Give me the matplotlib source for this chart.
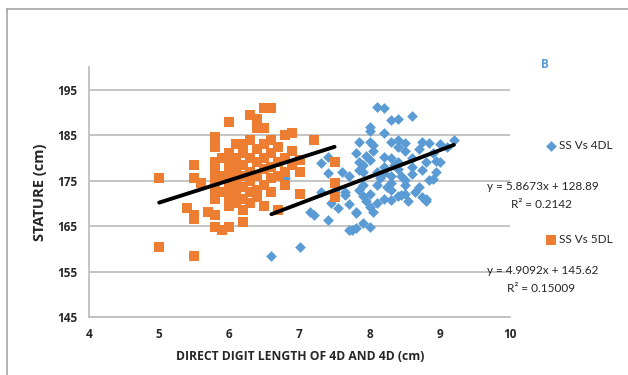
import matplotlib.pyplot as plt
from matplotlib.lines import Line2D

# SS Vs 5DL (orange squares)
x_5dl = [5.0, 5.0, 5.5, 5.4, 5.5, 5.5, 5.5, 5.5, 5.6, 5.7, 5.8, 5.8, 5.9, 6.0, 6.2, 6.0,
         5.8, 5.8, 5.8, 5.8, 5.8, 5.8, 5.8, 5.9, 5.9, 5.9, 6.0, 6.0, 6.0, 6.0, 6.0, 6.0,
         6.0, 6.1, 6.1, 6.1, 6.1, 6.1, 6.1, 6.1, 6.2, 6.2, 6.2, 6.2, 6.2, 6.2, 6.2, 6.3,
         6.3, 6.3, 6.3, 6.3, 6.3, 6.3, 6.4, 6.4, 6.4, 6.4, 6.4, 6.4, 6.4, 6.5, 6.5, 6.5,
         6.5, 6.5, 6.5, 6.5, 6.6, 6.6, 6.6, 6.6, 6.6, 6.6, 6.7, 6.7, 6.7, 6.7, 6.8, 6.8,
         6.8, 6.8, 6.9, 6.9, 6.9, 7.0, 7.0, 7.0, 7.2, 7.5, 7.5, 7.5]
y_5dl = [175.5, 160.5, 158.5, 169.0, 167.5, 166.5, 178.5, 175.5, 174.5, 168.0, 167.5, 164.8,
         164.2, 164.8, 166.0, 169.5, 184.5, 182.5, 179.0, 177.0, 175.0, 173.0, 171.0, 180.0,
         176.0, 172.5, 188.0, 181.0, 179.0, 177.0, 175.0, 173.0, 171.0, 183.0, 180.0, 178.0,
         176.0, 174.0, 172.0, 170.0, 183.0, 181.0, 178.5, 176.0, 173.5, 171.0, 168.5, 189.5,
         184.0, 180.0, 177.0, 175.0, 172.5, 170.0, 188.5, 186.5, 182.0, 179.0, 176.0, 173.0,
         171.5, 191.0, 186.5, 183.0, 180.0, 177.5, 174.0, 169.5, 191.0, 184.0, 181.0, 178.0,
         175.5, 172.5, 182.5, 179.0, 176.0, 168.5, 185.0, 180.0, 177.0, 174.0, 185.5, 181.5,
         178.5, 177.0, 172.0, 179.5, 184.0, 179.0, 174.5, 171.5]

# SS Vs 4DL (blue diamonds)
x_4dl = [6.6, 7.0, 6.8, 7.15, 7.2, 7.4, 7.3, 7.4, 7.4, 7.3, 7.5, 7.65, 7.65, 7.7, 7.8, 7.9,
         8.0, 7.8, 7.75, 8.1, 8.2, 8.3, 8.4, 8.6, 8.0, 8.0, 8.2, 8.4, 8.3, 8.0, 8.05, 7.8,
         7.85, 7.85, 7.9, 8.0, 8.05, 8.2, 8.3, 8.4, 8.75, 8.85, 9.0, 9.2, 8.9, 8.95, 8.75,
         8.85, 8.9, 8.75, 8.5, 8.5, 8.3, 8.4, 8.5, 8.2, 7.85, 7.9, 8.0, 8.1, 7.8, 8.0, 8.1,
         8.6, 8.6, 8.6, 8.7, 8.1, 8.2, 8.3, 8.4, 8.5, 8.4, 8.5, 8.65, 8.7, 8.8, 8.8, 8.3,
         7.9, 7.7, 7.6, 7.9, 7.95, 8.15, 8.25, 8.35, 8.45, 8.55, 7.95, 8.05, 8.2, 8.3, 8.45,
         8.8, 9.0, 9.1, 8.95, 7.55, 7.45, 7.7, 7.85]
y_4dl = [158.5, 160.5, 175.5, 168.0, 167.5, 166.3, 178.8, 176.6, 180.2, 172.6, 172.9, 172.6,
         171.8, 164.1, 164.5, 165.6, 164.8, 167.8, 164.2, 191.2, 191.0, 188.3, 188.5, 189.2,
         186.8, 186.0, 185.4, 184.0, 183.5, 183.6, 182.8, 181.0, 179.0, 177.4, 176.8, 179.5,
         181.5, 180.2, 180.0, 179.0, 183.6, 183.3, 183.1, 183.9, 181.0, 179.3, 177.3, 175.1,
         175.3, 171.4, 175.1, 174.0, 172.9, 171.7, 172.0, 176.6, 172.9, 171.6, 169.3, 170.0,
         168.2, 172.0, 174.0, 176.5, 180.0, 178.0, 182.0, 177.0, 178.0, 176.0, 177.5, 181.5,
         182.5, 183.2, 172.5, 173.5, 179.0, 170.5, 174.5, 174.0, 176.0, 177.0, 178.5, 180.5,
         175.5, 173.5, 178.5, 176.0, 170.5, 170.5, 168.0, 171.0, 170.7, 171.8, 171.0, 179.0,
         182.5, 177.0, 169.0, 170.0, 169.8, 183.5]

# trendline coefficients (as shown on the chart)
fit_4dl = (5.8673, 128.89, 0.2142)
fit_5dl = (4.9092, 145.62, 0.15009)

x_ticks = [4, 5, 6, 7, 8, 9, 10]
y_ticks = [145, 155, 165, 175, 185, 195]

blue = '#5B9BD5'
orange = '#ED7D31'
grid_c = '#BFBFBF'
text_c = '#262626'
bold_font = ['Open Sans', 'DejaVu Sans']

plt.rcParams['font.family'] = ['Lato', 'DejaVu Sans']

W, H = 628, 375
fig = plt.figure(figsize=(W / 100, H / 100), dpi=100)
ax = fig.add_axes([89 / W, 1 - 317 / H, (510 - 89) / W, (317 - 67) / H])

ax.scatter(x_4dl, y_4dl, marker='D', s=30, color=blue, linewidths=0, zorder=3,
           label='SS Vs 4DL')
ax.scatter(x_5dl, y_5dl, marker='s', s=42, color=orange, linewidths=0, zorder=3,
           label='SS Vs 5DL')

# linear trendlines over each series' x range
for xs, (m, b, _) in ((x_4dl, fit_4dl), (x_5dl, fit_5dl)):
    x0, x1 = min(xs), max(xs)
    ax.plot([x0, x1], [m * x0 + b, m * x1 + b], color='black', lw=2.8,
            solid_capstyle='round', zorder=4)

ax.set_xlim(4, 10)
ax.set_ylim(145, 200)
ax.set_xticks(x_ticks)
ax.set_yticks(y_ticks)
ax.tick_params(length=0, labelsize=8.5, colors=text_c, pad=8)
for lab in ax.get_xticklabels() + ax.get_yticklabels():
    lab.set_fontweight('bold')
    lab.set_family(bold_font)
ax.yaxis.grid(True, color=grid_c, lw=1.3)
ax.set_axisbelow(True)
for s in ('top', 'right'):
    ax.spines[s].set_visible(False)
for s in ('left', 'bottom'):
    ax.spines[s].set_color(grid_c)
    ax.spines[s].set_linewidth(1.3)

fig.text(300 / W, 1 - 357 / H, 'DIRECT DIGIT LENGTH OF 4D AND 4D (cm)', ha='center',
         va='center', fontsize=8.7, fontweight='bold', color=text_c, family=bold_font)
fig.text(40 / W, 1 - 192 / H, 'STATURE (cm)', ha='center', va='center', rotation=90,
         fontsize=10.5, fontweight='bold', color=text_c, family=bold_font)
fig.text(545 / W, 1 - 65 / H, 'B', ha='center', va='center', fontsize=8.5,
         fontweight='bold', color=blue, family=bold_font)

fig.legend(loc='upper left', bbox_to_anchor=(544 / W, 1 - 140 / H), frameon=False,
           fontsize=8.5, labelspacing=7.0, handletextpad=0.1, handlelength=1.2,
           labelcolor=text_c, borderaxespad=0, borderpad=0)

for (m, b, r2), yy in ((fit_4dl, 186), (fit_5dl, 271)):
    fig.text(543 / W, 1 - yy / H, f'y = {m:g}x + {b:g}', ha='center', va='center',
             fontsize=8.5, color=text_c)
    fig.text(541 / W, 1 - (yy + 18) / H, f'R² = {r2:g}', ha='center', va='center',
             fontsize=8.5, color=text_c)

# outer chart border (left and top edges visible)
fig.add_artist(Line2D([7 / W, 7 / W], [0, 1 - 9 / H], color='#A6A6A6', lw=1.2))
fig.add_artist(Line2D([7 / W, 1], [1 - 9 / H, 1 - 9 / H], color='#A6A6A6', lw=1.2))

fig.savefig('out.png', dpi=100)
